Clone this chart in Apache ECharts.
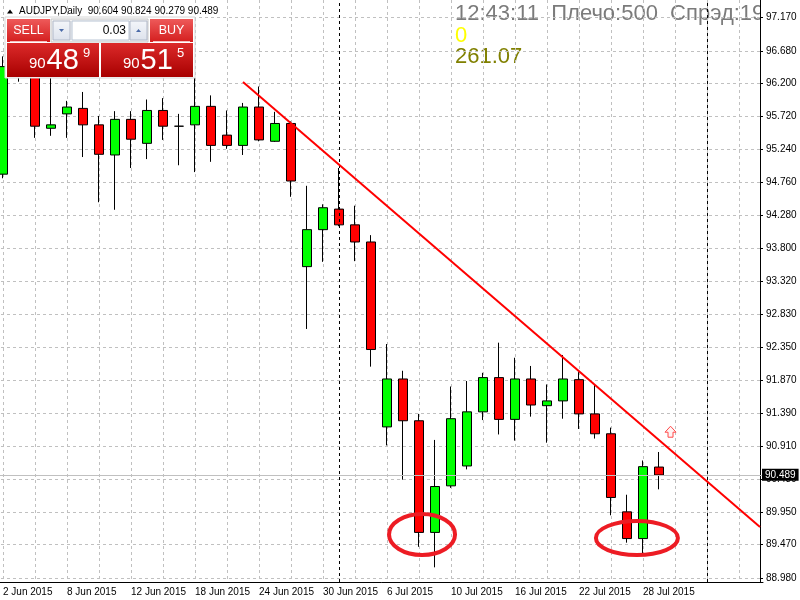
<!DOCTYPE html>
<html lang="ru">
<head>
<meta charset="UTF-8">
<title>AUDJPY,Daily</title>
<script src="https://cdn.jsdelivr.net/npm/echarts@6/dist/echarts.min.js"></script>
<style>
  * { margin: 0; padding: 0; }
  html, body { width: 800px; height: 600px; background: #fff; overflow: hidden; }
  #chart { width: 800px; height: 600px; }
</style>
</head>
<body>
<div id="chart"></div>
<script>
// trading days shown on the chart, plus the empty "shift" days on the right
const dates = [
  '2 Jun 2015', '3 Jun 2015', '4 Jun 2015', '5 Jun 2015', '8 Jun 2015', '9 Jun 2015',
  '10 Jun 2015', '11 Jun 2015', '12 Jun 2015', '15 Jun 2015', '16 Jun 2015', '17 Jun 2015',
  '18 Jun 2015', '19 Jun 2015', '22 Jun 2015', '23 Jun 2015', '24 Jun 2015', '25 Jun 2015',
  '26 Jun 2015', '29 Jun 2015', '30 Jun 2015', '1 Jul 2015', '2 Jul 2015', '3 Jul 2015',
  '6 Jul 2015', '7 Jul 2015', '8 Jul 2015', '9 Jul 2015', '10 Jul 2015', '13 Jul 2015',
  '14 Jul 2015', '15 Jul 2015', '16 Jul 2015', '17 Jul 2015', '20 Jul 2015', '21 Jul 2015',
  '22 Jul 2015', '23 Jul 2015', '24 Jul 2015', '27 Jul 2015', '28 Jul 2015', '29 Jul 2015',
  '30 Jul 2015', '31 Jul 2015', '3 Aug 2015', '4 Aug 2015', '5 Aug 2015', '6 Aug 2015'
];
const lastLabelIndex = 40;

const opens = [94.88, 96.80, 96.45, 95.55, 95.76, 95.84, 95.60, 95.16, 95.68, 95.33, 95.81, 95.58,
  95.60, 95.87, 95.45, 95.30, 95.86, 95.36, 95.62, 93.53, 94.07, 94.37, 94.14, 93.89,
  91.19, 91.89, 91.28, 89.65, 90.33, 90.62, 91.41, 91.91, 91.30, 91.89, 91.50, 91.57,
  91.88, 91.38, 91.09, 89.95, 89.56, 90.604];
const closes = [96.45, 96.55, 95.58, 95.60, 95.86, 95.60, 95.17, 95.68, 95.39, 95.81, 95.58, 95.58,
  95.87, 95.30, 95.30, 95.86, 95.38, 95.62, 94.78, 94.07, 94.39, 94.14, 93.89, 92.32,
  91.89, 91.28, 89.65, 90.32, 91.31, 91.41, 91.91, 91.30, 91.89, 91.51, 91.57, 91.89,
  91.38, 91.09, 90.16, 89.56, 90.61, 90.489];
const lows = [94.82, 96.23, 95.41, 95.44, 95.41, 95.13, 94.47, 94.36, 94.97, 95.10, 95.38, 95.01,
  94.91, 95.06, 95.25, 95.16, 95.36, 95.35, 94.55, 92.62, 93.60, 94.12, 93.61, 92.07,
  90.92, 90.42, 89.44, 89.14, 90.30, 90.57, 91.29, 91.08, 90.99, 91.34, 90.96, 91.31,
  91.16, 91.02, 89.90, 89.50, 89.34, 90.279];
const highs = [96.60, 97.05, 96.70, 96.40, 95.95, 96.08, 95.73, 95.80, 95.80, 95.97, 95.99, 95.76,
  96.32, 96.03, 95.81, 95.92, 96.16, 95.79, 95.65, 94.71, 94.44, 94.97, 94.42, 93.99,
  92.40, 92.01, 91.38, 91.00, 91.78, 91.86, 91.98, 92.42, 92.20, 92.08, 91.81, 92.24,
  91.99, 91.81, 91.18, 90.20, 90.70, 90.824];

const priceTicks = [97.170, 96.680, 96.200, 95.720, 95.240, 94.760, 94.280, 93.800, 93.320,
  92.830, 92.350, 91.870, 91.390, 90.910, 90.430, 89.950, 89.470, 88.980];
const priceMin = 88.926;
const priceMax = 97.4226;

const bidPrice = 90.489;
const separatorDays = [21, 44];          // month separators (1 Jul, 3 Aug)
const trendLine = [[15, 96.225], [47.3125, 89.729]];
const ellipseMarks = [
  { at: 26.19, price: 89.62, rx: 33, ry: 20.5 },
  { at: 39.62, price: 89.568, rx: 41, ry: 17 }
];
const arrowMark = { at: 41.72, price: 91.12 };

const symbolName = 'AUDJPY,Daily';
const infoLines = ['12:43:11  Плечо:500  Спрэд:19', '0', '261.07'];
const lotSize = '0.03';
const sellPrice = ['90', '48', '9'];
const buyPrice = ['90', '51', '5'];

const FONT = 'Liberation Sans, Arial, sans-serif';
const chart = echarts.init(document.getElementById('chart'));

const candles = opens.map((o, i) => [o, closes[i], lows[i], highs[i]]);
const last = candles.length - 1;

chart.setOption({
  animation: false,
  backgroundColor: '#ffffff',
  grid: { left: -5, right: 37, top: 0, bottom: 18, outerBoundsMode: 'none', containLabel: false },
  xAxis: [{
    type: 'category',
    data: dates,
    boundaryGap: true,
    axisLine: { onZero: false, lineStyle: { color: '#000', width: 1 } },
    axisTick: {
      alignWithLabel: true,
      length: 4,
      interval: (i) => i % 4 === 0 && i <= lastLabelIndex,
      lineStyle: { color: '#000' }
    },
    axisLabel: {
      interval: (i) => i % 4 === 0 && i <= lastLabelIndex,
      align: 'left',
      margin: 5,
      color: '#000',
      fontSize: 10,
      fontFamily: FONT
    },
    splitLine: {
      show: true,
      alignWithLabel: true,
      interval: (i) => i % 2 === 0,
      lineStyle: { color: '#c0c0c0', type: [3, 3], width: 1 }
    }
  }, {
    type: 'value',
    min: -0.5,
    max: 47.5,
    show: false,
    axisLine: { onZero: false },
    splitLine: { show: false }
  }],
  yAxis: {
    type: 'value',
    position: 'right',
    offset: -3,
    min: priceMin,
    max: priceMax,
    axisLine: { show: true, onZero: false, lineStyle: { color: '#000', width: 1 } },
    axisTick: { show: true, length: 3, customValues: priceTicks, lineStyle: { color: '#000' } },
    axisLabel: {
      customValues: priceTicks,
      formatter: (v) => v.toFixed(3),
      margin: 6,
      color: '#000',
      fontSize: 10,
      fontFamily: FONT
    },
    splitLine: { show: true, lineStyle: { color: '#c0c0c0', type: [3, 3], width: 1 } }
  },
  series: [{
    type: 'candlestick',
    data: candles,
    barWidth: 10,
    itemStyle: {
      color: '#00ff00',
      color0: '#ff0000',
      borderColor: '#000000',
      borderColor0: '#000000',
      borderColorDoji: '#000000',
      borderWidth: 1
    },
    markLine: {
      silent: true,
      symbol: 'none',
      animation: false,
      data: [
        ...separatorDays.map(d => ({
          xAxis: dates[d],
          lineStyle: { color: '#000', type: [3, 3], width: 1 },
          label: { show: false }
        })),
        {
          yAxis: bidPrice,
          lineStyle: { color: '#c0c0c0', type: 'solid', width: 1 },
          label: {
            show: true,
            position: 'end',
            distance: -1,
            formatter: bidPrice.toFixed(3),
            color: '#fff',
            backgroundColor: '#000',
            padding: [1, 3, 1, 3],
            fontSize: 10,
            fontFamily: FONT
          }
        }
      ]
    }
  }, {
    type: 'line',
    xAxisIndex: 1,
    data: trendLine,
    symbol: 'none',
    silent: true,
    lineStyle: { color: '#ff0000', width: 2 },
    z: 5
  }]
});

function vgrad(top, bottom) {
  return { type: 'linear', x: 0, y: 0, x2: 0, y2: 1,
    colorStops: [{ offset: 0, color: top }, { offset: 1, color: bottom }] };
}
function txt(x, y, text, size, fill, align, extra) {
  return Object.assign({
    type: 'text', x: x, y: y, z: 101,
    style: { text: text, font: size + 'px ' + FONT, fill: fill,
      align: align || 'left', verticalAlign: 'middle',
      textAlign: align || 'left', textVerticalAlign: 'middle' }
  }, extra || {});
}

const graphics = [];

// big info text top right, clipped at the price scale
graphics.push(txt(455, 13.5, infoLines[0], 22, '#7b7b7b', 'left', { z: -10 }));
graphics.push(txt(455, 35.5, infoLines[1], 22, '#ffff00', 'left', { z: -10 }));
graphics.push(txt(455, 56.5, infoLines[2], 22, '#808000', 'left', { z: -10 }));
graphics.push({ type: 'rect', z: -5, shape: { x: 760.5, y: 0, width: 40, height: 35 }, style: { fill: '#fff' } });

// symbol header
graphics.push({ type: 'polygon', z: 101, shape: { points: [[7, 13.5], [10, 9.5], [13, 13.5]] }, style: { fill: '#000' } });
graphics.push(txt(19, 11.5, symbolName + '  ' + [opens[last], highs[last], lows[last], closes[last]]
  .map(v => v.toFixed(3)).join(' '), 10, '#000'));

// one-click trading panel
graphics.push({ type: 'rect', z: 100, shape: { x: 5, y: 17, width: 190, height: 61 }, style: { fill: '#fff', stroke: '#d6d6d6' } });
[[7, 'SELL'], [150, 'BUY']].forEach(([x, label]) => {
  graphics.push({ type: 'rect', z: 100, shape: { x: x, y: 19, width: 43, height: 23 }, style: { fill: vgrad('#ee5a5a', '#d41e1e') } });
  graphics.push({ type: 'line', z: 101, shape: { x1: x + 3, y1: 41.5, x2: x + 40, y2: 41.5 }, style: { stroke: '#f6c0c0', lineWidth: 1 } });
  graphics.push(txt(x + 21.5, 31, label, 12.5, '#fff', 'center'));
});
// lot size control
graphics.push({ type: 'rect', z: 100, shape: { x: 51, y: 19, width: 97, height: 23 }, style: { fill: '#f2f2f2', stroke: '#c8c8c8' } });
graphics.push({ type: 'rect', z: 100, shape: { x: 72, y: 21, width: 57, height: 19 }, style: { fill: '#fff', stroke: '#b8c4d4' } });
graphics.push({ type: 'rect', z: 100, shape: { x: 53, y: 21, width: 17, height: 19 }, style: { fill: vgrad('#f4f6fa', '#dde2ec'), stroke: '#b0b8c8' } });
graphics.push({ type: 'rect', z: 100, shape: { x: 130, y: 21, width: 17, height: 19 }, style: { fill: vgrad('#f4f6fa', '#dde2ec'), stroke: '#b0b8c8' } });
graphics.push({ type: 'polygon', z: 101, shape: { points: [[59, 29], [64, 29], [61.5, 32]] }, style: { fill: '#4a6aa8' } });
graphics.push({ type: 'polygon', z: 101, shape: { points: [[136, 32], [141, 32], [138.5, 29]] }, style: { fill: '#4a6aa8' } });
graphics.push(txt(126, 31, lotSize, 12, '#000', 'right'));
// price boxes
[[7, sellPrice], [101, buyPrice]].forEach(([x, p]) => {
  graphics.push({ type: 'rect', z: 100, shape: { x: x, y: 43, width: 92, height: 34 }, style: { fill: vgrad('#dc2a2a', '#a80000') } });
  graphics.push(txt(x + 22, 64, p[0], 15, '#fff'));
  graphics.push(txt(x + 39.5, 60.5, p[1], 29, '#fff'));
  graphics.push(txt(x + 76, 53, p[2], 13, '#fff'));
});

// hand-drawn annotations, positioned in data space
ellipseMarks.forEach(e => {
  const c = chart.convertToPixel({ xAxisIndex: 1, yAxisIndex: 0 }, [e.at, e.price]);
  graphics.push({ type: 'ellipse', z: 50, shape: { cx: c[0], cy: c[1], rx: e.rx, ry: e.ry },
    style: { fill: 'none', stroke: '#ed1c24', lineWidth: 4 } });
});
const ap = chart.convertToPixel({ xAxisIndex: 1, yAxisIndex: 0 }, [arrowMark.at, arrowMark.price]);
graphics.push({ type: 'polygon', z: 50, x: ap[0], y: ap[1],
  shape: { points: [[-5.5, 0.5], [0, -5.5], [5.5, 0.5], [2.5, 0.5], [2.5, 5.5], [-2.5, 5.5], [-2.5, 0.5]] },
  style: { fill: '#fff4f4', stroke: '#ff4a4a', lineWidth: 1 } });

chart.setOption({ graphic: graphics });
</script>
</body>
</html>
